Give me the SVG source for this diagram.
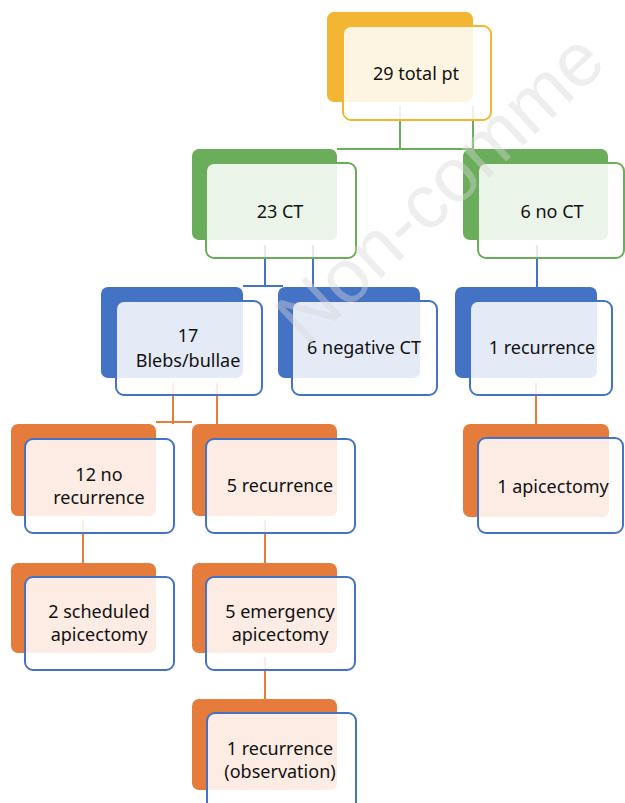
<svg xmlns="http://www.w3.org/2000/svg" width="625" height="803" viewBox="0 0 625 803">
<style>
  .bg{fill:#ffffff}
  .front{fill:#ffffff;fill-opacity:0.86;stroke-width:2}
  .by{fill:#F2B632}
  .fy{stroke:#F2B632}
  .bgn{fill:#6AAD5B}
  .fgn{stroke:#6AAD5B}
  .bb{fill:#4472C4}
  .fb{stroke:#4472C4}
  .bo{fill:#E67C3C}
  .lbl{font-family:"Noto Sans","Liberation Sans",Arial,sans-serif;font-size:18px;fill:#111111;text-anchor:middle}
  .cg{stroke:#6AAD5B;stroke-width:2;fill:none}
  .cb{stroke:#4472C4;stroke-width:2;fill:none}
  .co{stroke:#E67C3C;stroke-width:2;fill:none}
  .wm{font-family:"Liberation Sans",Arial,sans-serif;font-size:76px;fill:#d6d6d6;fill-opacity:0.42}
</style>
<rect class="bg" x="0" y="0" width="625" height="803"/>
<g id="connectors">
  <path class="cg" d="M400,106 V149 M473,106 V149 M337,149 H473"/>
  <path class="cb" d="M265,245 V286 M313,245 V288 M243,286 H283 M537,245 V288"/>
  <path class="co" d="M173,383 V424 M217,383 V424 M156,422 H192 M536,383 V425"/>
  <path class="co" d="M83,520 V564 M265,520 V564 M265,657 V700"/>
</g>
<g id="n-total">
  <rect class="by" x="327" y="12" width="146" height="90" rx="7"/>
  <rect class="front fy" x="343" y="26" width="148" height="94" rx="8"/>
  <text class="lbl" x="416" y="80">29 total pt</text>
</g>
<g id="n-ct">
  <rect class="bgn" x="192" y="149" width="145" height="91" rx="7"/>
  <rect class="front fgn" x="206" y="163" width="150" height="95" rx="8"/>
  <text class="lbl" x="280" y="218">23 CT</text>
</g>
<g id="n-noct">
  <rect class="bgn" x="463" y="149" width="145" height="91" rx="7"/>
  <rect class="front fgn" x="478" y="163" width="146" height="95" rx="8"/>
  <text class="lbl" x="552" y="218">6 no CT</text>
</g>
<g id="n-blebs">
  <rect class="bb" x="101" y="287" width="142" height="91" rx="7"/>
  <rect class="front fb" x="116" y="301" width="146" height="94" rx="8"/>
  <text class="lbl" x="188" y="342">17</text>
  <text class="lbl" x="188" y="367">Blebs/bullae</text>
</g>
<g id="n-neg">
  <rect class="bb" x="278" y="287" width="142" height="91" rx="7"/>
  <rect class="front fb" x="292" y="301" width="145" height="94" rx="8"/>
  <text class="lbl" x="364" y="354">6 negative CT</text>
</g>
<g id="n-rec1">
  <rect class="bb" x="455" y="287" width="142" height="91" rx="7"/>
  <rect class="front fb" x="470" y="301" width="142" height="94" rx="8"/>
  <text class="lbl" x="542" y="354">1 recurrence</text>
</g>
<g id="n-norec">
  <rect class="bo" x="11" y="424" width="145" height="92" rx="7"/>
  <rect class="front fb" x="25" y="439" width="149" height="94" rx="8"/>
  <text class="lbl" x="99" y="481">12 no</text>
  <text class="lbl" x="99" y="504">recurrence</text>
</g>
<g id="n-rec5">
  <rect class="bo" x="192" y="424" width="145" height="92" rx="7"/>
  <rect class="front fb" x="206" y="439" width="149" height="94" rx="8"/>
  <text class="lbl" x="280" y="492">5 recurrence</text>
</g>
<g id="n-api1">
  <rect class="bo" x="463" y="424" width="146" height="93" rx="7"/>
  <rect class="front fb" x="478" y="438" width="145" height="95" rx="8"/>
  <text class="lbl" x="553" y="493">1 apicectomy</text>
</g>
<g id="n-sched">
  <rect class="bo" x="11" y="563" width="145" height="90" rx="7"/>
  <rect class="front fb" x="25" y="577" width="149" height="93" rx="8"/>
  <text class="lbl" x="99" y="618">2 scheduled</text>
  <text class="lbl" x="99" y="641">apicectomy</text>
</g>
<g id="n-emerg">
  <rect class="bo" x="192" y="563" width="145" height="90" rx="7"/>
  <rect class="front fb" x="206" y="577" width="149" height="93" rx="8"/>
  <text class="lbl" x="280" y="618">5 emergency</text>
  <text class="lbl" x="280" y="641">apicectomy</text>
</g>
<g id="n-obs">
  <rect class="bo" x="192" y="699" width="145" height="91" rx="7"/>
  <rect class="front fb" x="207" y="713" width="149" height="100" rx="8"/>
  <text class="lbl" x="280" y="755">1 recurrence</text>
  <text class="lbl" x="280" y="778">(observation)</text>
</g>
<g id="watermark">
  <text class="wm" x="306" y="348" transform="rotate(-43 306 348)">Non-comme</text>
</g>
</svg>
